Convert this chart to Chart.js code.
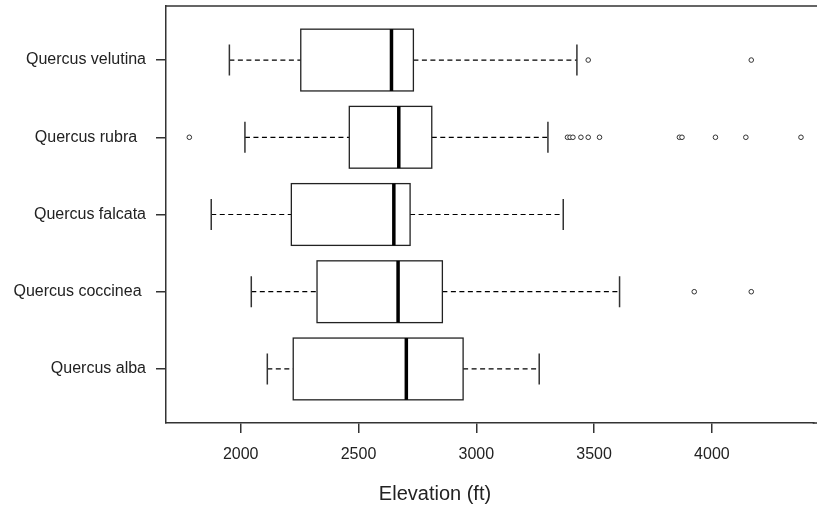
<!DOCTYPE html>
<html>
<head>
<meta charset="utf-8">
<script src="https://cdn.jsdelivr.net/npm/chart.js@4"></script>
<style>
  html, body { margin: 0; padding: 0; background: #fff; }
  canvas { display: block; }
</style>
</head>
<body>
<canvas id="chart" width="817" height="510"></canvas>
<script>
// boxplot stats (bottom to top)
const species = ['Quercus alba', 'Quercus coccinea ', 'Quercus falcata', 'Quercus rubra  ', 'Quercus velutina'];
const whiskerLow = [2113, 2045, 1875, 2018, 1952];
const q1 = [2223, 2324, 2215, 2461, 2255];
const median = [2703, 2668, 2650, 2671, 2640];
const q3 = [2944, 2856, 2719, 2811, 2733];
const whiskerHigh = [3267, 3608, 3369, 3304, 3427];
const outliers = [
  [],
  [3925, 4167],
  [],
  [1782, 3387, 3398, 3410, 3444, 3475, 3523, 3862, 3873, 4015, 4144, 4378],
  [3475, 4167]
];
const xTicks = [2000, 2500, 3000, 3500, 4000];
const axisTitle = 'Elevation (ft)';

const ink = '#222';
const font = 'Liberation Sans, Arial, sans-serif';

// outlier points as a plain scatter dataset
const outlierPoints = [];
outliers.forEach((list, i) => {
  list.forEach(v => outlierPoints.push({ x: v, y: i + 1 }));
});

// draws the boxes, whiskers, frame top and axis title
const boxPlugin = {
  id: 'boxes',
  beforeDatasetsDraw(chart) {
    const ctx = chart.ctx;
    const x = chart.scales.x;
    const y = chart.scales.y;
    ctx.save();
    species.forEach((name, i) => {
      const pos = i + 1;
      const yc = y.getPixelForValue(pos);
      const yTop = y.getPixelForValue(pos + 0.4);
      const yBot = y.getPixelForValue(pos - 0.4);
      const capTop = y.getPixelForValue(pos + 0.2);
      const capBot = y.getPixelForValue(pos - 0.2);
      const xLo = x.getPixelForValue(whiskerLow[i]);
      const x1 = x.getPixelForValue(q1[i]);
      const xm = x.getPixelForValue(median[i]);
      const x3 = x.getPixelForValue(q3[i]);
      const xHi = x.getPixelForValue(whiskerHigh[i]);

      // dashed whiskers
      ctx.strokeStyle = '#000';
      ctx.lineWidth = 1.2;
      ctx.setLineDash([5, 3.5]);
      ctx.beginPath();
      ctx.moveTo(xLo, yc); ctx.lineTo(x1, yc);
      ctx.moveTo(x3, yc); ctx.lineTo(xHi, yc);
      ctx.stroke();
      ctx.setLineDash([]);

      // staples
      ctx.strokeStyle = '#333';
      ctx.lineWidth = 1.5;
      ctx.beginPath();
      ctx.moveTo(xLo, capTop); ctx.lineTo(xLo, capBot);
      ctx.moveTo(xHi, capTop); ctx.lineTo(xHi, capBot);
      ctx.stroke();

      // box
      ctx.fillStyle = '#fff';
      ctx.fillRect(x1, yTop, x3 - x1, yBot - yTop);
      ctx.strokeStyle = ink;
      ctx.lineWidth = 1.3;
      ctx.strokeRect(x1, yTop, x3 - x1, yBot - yTop);

      // median
      ctx.strokeStyle = '#000';
      ctx.lineWidth = 3.5;
      ctx.beginPath();
      ctx.moveTo(xm, yTop); ctx.lineTo(xm, yBot);
      ctx.stroke();
    });
    ctx.restore();
  },
  afterDraw(chart) {
    const ctx = chart.ctx;
    const area = chart.chartArea;
    ctx.save();
    // frame top, and bottom axis carried on to the edge like the original
    ctx.strokeStyle = '#333';
    ctx.lineWidth = 1.5;
    ctx.beginPath();
    ctx.moveTo(area.left, area.top);
    ctx.lineTo(chart.width, area.top);
    ctx.moveTo(area.right - 1, area.bottom);
    ctx.lineTo(chart.width, area.bottom);
    ctx.stroke();
    ctx.fillStyle = ink;
    ctx.font = '20px ' + font;
    ctx.textAlign = 'center';
    ctx.textBaseline = 'middle';
    ctx.fillText(axisTitle, 435, 494);
    ctx.restore();
  }
};

new Chart(document.getElementById('chart'), {
  type: 'scatter',
  data: {
    datasets: [{
      data: outlierPoints,
      pointStyle: 'circle',
      pointRadius: 2.3,
      pointHoverRadius: 2.3,
      borderColor: '#333',
      backgroundColor: '#fff',
      borderWidth: 1
    }]
  },
  options: {
    responsive: false,
    animation: false,
    events: [],
    layout: { padding: { top: 6, right: 0, bottom: 0, left: 0 } },
    plugins: {
      legend: { display: false },
      tooltip: { enabled: false }
    },
    scales: {
      x: {
        type: 'linear',
        min: 1683,
        max: 4432,
        afterBuildTicks: scale => { scale.ticks = xTicks.map(v => ({ value: v })); },
        afterFit: scale => {
          scale.height = 87;
          scale.paddingLeft = 0;
          scale.paddingRight = 0;
        },
        grid: { drawOnChartArea: false, tickLength: 10, color: '#333', lineWidth: 1.5 },
        border: { color: '#333', width: 1.5 },
        ticks: {
          color: ink,
          padding: 12,
          maxRotation: 0,
          font: { family: font, size: 16 },
          callback: v => String(v)
        }
      },
      y: {
        type: 'linear',
        min: 0.3,
        max: 5.7,
        afterBuildTicks: scale => { scale.ticks = species.map((s, i) => ({ value: i + 1 })); },
        afterFit: scale => {
          scale.width = 166;
          scale.paddingTop = 0;
          scale.paddingBottom = 0;
        },
        grid: { drawOnChartArea: false, tickLength: 10, color: '#333', lineWidth: 1.5 },
        border: { color: '#333', width: 1.5 },
        ticks: {
          color: ink,
          padding: 10,
          font: { family: font, size: 16 },
          callback: v => species[v - 1]
        }
      }
    }
  },
  plugins: [boxPlugin]
});
</script>
</body>
</html>
